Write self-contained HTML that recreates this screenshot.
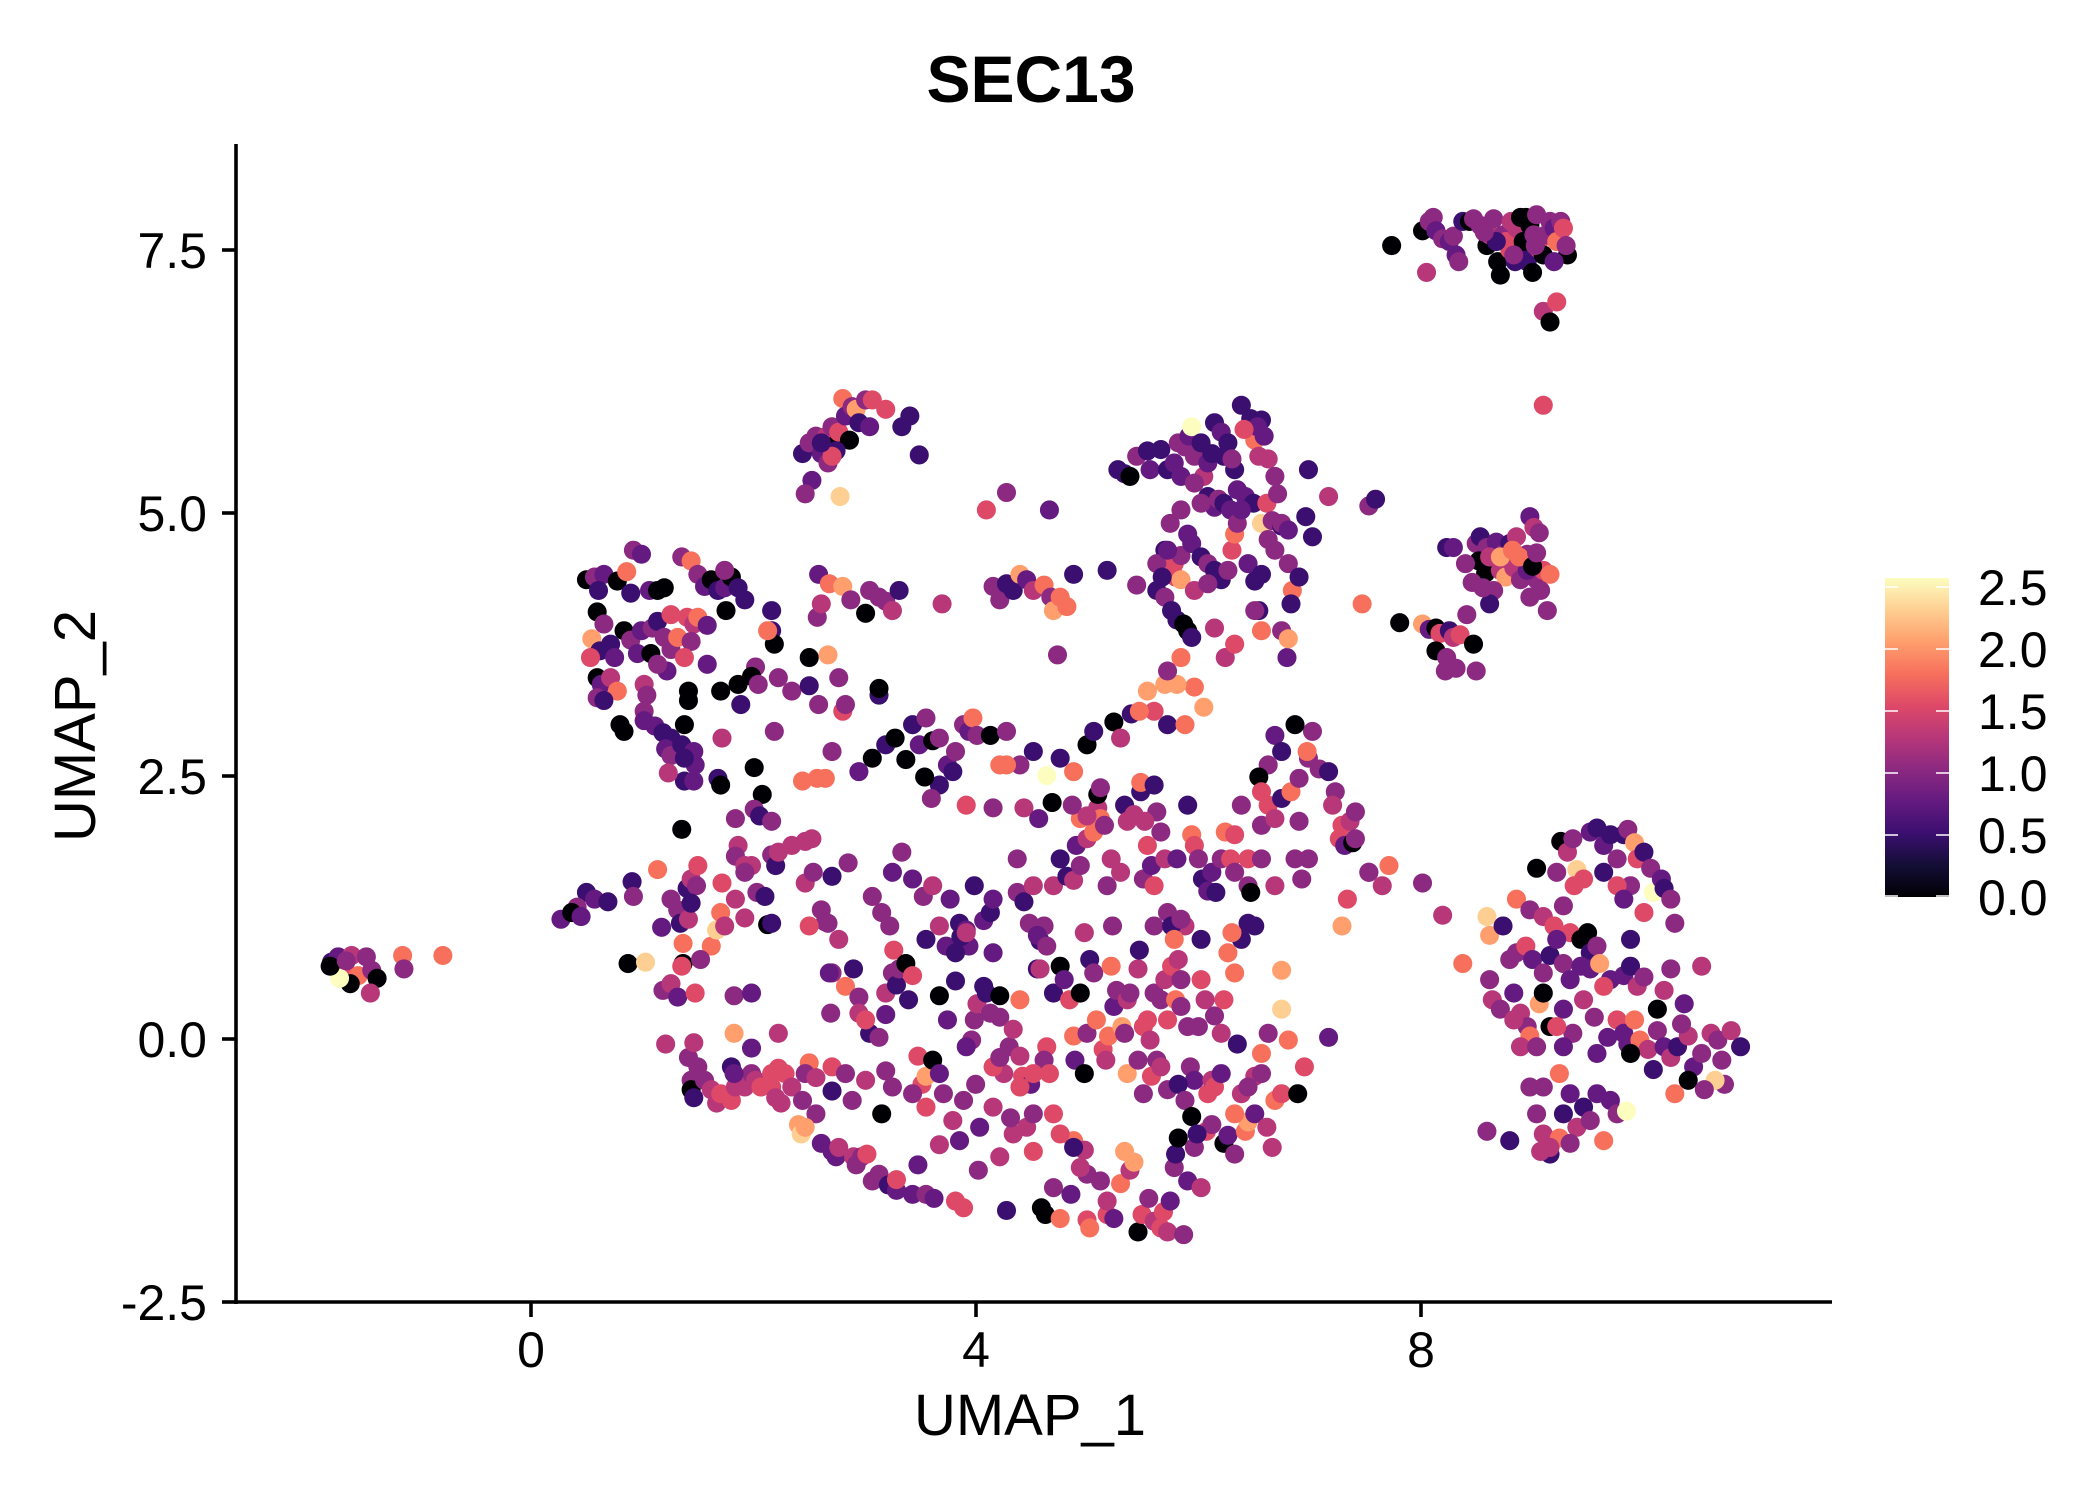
<!DOCTYPE html>
<html><head><meta charset="utf-8"><style>
html,body{margin:0;padding:0;background:#fff}
svg{display:block}
text{font-family:"Liberation Sans",Arial,sans-serif;fill:#000}
</style></head><body>
<svg id="s" xmlns="http://www.w3.org/2000/svg" width="2100" height="1500" viewBox="0 0 2100 1500">
<defs>
<linearGradient id="mg" x1="0" y1="1" x2="0" y2="0">
<stop offset="0" stop-color="#000004"/><stop offset="0.1" stop-color="#140e36"/><stop offset="0.2" stop-color="#3b0f70"/><stop offset="0.3" stop-color="#641a80"/><stop offset="0.4" stop-color="#8c2981"/><stop offset="0.5" stop-color="#b73779"/><stop offset="0.6" stop-color="#de4968"/><stop offset="0.7" stop-color="#f7705c"/><stop offset="0.8" stop-color="#fe9f6d"/><stop offset="0.9" stop-color="#fecf92"/><stop offset="1" stop-color="#fcfdbf"/>
</linearGradient>
</defs>
<rect width="2100" height="1500" fill="#fff"/>
<text x="1031" y="102" font-size="66" font-weight="bold" text-anchor="middle">SEC13</text>
<g id="pts" transform="scale(1.342)"></g>
<line x1="236" y1="144" x2="236" y2="1304" stroke="#000" stroke-width="3.6"/>
<line x1="234" y1="1302" x2="1832" y2="1302" stroke="#000" stroke-width="3.6"/>
<g stroke="#000" stroke-width="3.6">
<line x1="222" y1="250" x2="236" y2="250"/><line x1="222" y1="513" x2="236" y2="513"/><line x1="222" y1="776" x2="236" y2="776"/><line x1="222" y1="1039" x2="236" y2="1039"/><line x1="222" y1="1302" x2="236" y2="1302"/>
<line x1="531" y1="1302" x2="531" y2="1317"/><line x1="976" y1="1302" x2="976" y2="1317"/><line x1="1421" y1="1302" x2="1421" y2="1317"/>
</g>
<g font-size="50" text-anchor="end">
<text x="207" y="268">7.5</text><text x="207" y="531">5.0</text><text x="207" y="794">2.5</text><text x="207" y="1057">0.0</text><text x="207" y="1320">-2.5</text>
</g>
<g font-size="50" text-anchor="middle">
<text x="531" y="1367">0</text><text x="976" y="1367">4</text><text x="1421" y="1367">8</text>
</g>
<text x="1030" y="1435" font-size="58" text-anchor="middle">UMAP_1</text>
<text transform="translate(95,726) rotate(-90)" font-size="58" text-anchor="middle">UMAP_2</text>
<rect x="1885" y="578" width="64" height="319" fill="url(#mg)"/>
<g stroke="#fff" stroke-width="1.5">
<line x1="1885" y1="587" x2="1898" y2="587"/><line x1="1936" y1="587" x2="1949" y2="587"/>
<line x1="1885" y1="649" x2="1898" y2="649"/><line x1="1936" y1="649" x2="1949" y2="649"/>
<line x1="1885" y1="711" x2="1898" y2="711"/><line x1="1936" y1="711" x2="1949" y2="711"/>
<line x1="1885" y1="773" x2="1898" y2="773"/><line x1="1936" y1="773" x2="1949" y2="773"/>
<line x1="1885" y1="835" x2="1898" y2="835"/><line x1="1936" y1="835" x2="1949" y2="835"/>
<line x1="1885" y1="896" x2="1898" y2="896"/><line x1="1936" y1="896" x2="1949" y2="896"/>
</g>
<g font-size="50">
<text x="1978" y="605">2.5</text><text x="1978" y="667">2.0</text><text x="1978" y="729">1.5</text><text x="1978" y="791">1.0</text><text x="1978" y="853">0.5</text><text x="1978" y="915">0.0</text>
</g>
</svg>
<script>
var C=["#000004","#3b0f70","#641a80","#8c2981","#b73779","#de4968","#f7705c","#fe9f6d","#fecf92","#fcfdbf"];
var D="247,717,1;252,713,2;262,712,4;273,713,3;257,721,5;267,727,6;277,723,3;281,729,0;261,733,0;253,729,9;276,740,4;300,712,6;301,722,3;330,712,6;246,720,0;258,716,3;"+
"437,432,0;443,430,3;450,428,2;460,433,0;467,426,6;472,410,3;478,413,2;484,440,2;490,440,0;495,438,0;470,442,1;446,440,1;445,456,0;450,465,3;441,476,7;447,485,1;440,490,5;455,480,1;458,490,2;465,470,0;470,477,3;478,470,2;486,468,3;490,463,1;495,475,3;475,487,2;485,487,0;500,484,3;505,475,6;508,415,3;515,418,6;520,428,3;525,437,2;530,432,0;535,440,1;540,438,2;545,430,0;550,438,1;555,447,1;541,455,0;540,425,3;500,458,5;512,460,5;517,465,4;520,460,6;527,466,2;515,478,3;510,490,5;497,500,2;490,495,3;445,505,0;448,510,2;455,505,4;460,515,6;445,520,3;450,522,1;462,540,0;465,545,0;480,510,4;482,518,3;480,530,3;480,537,2;488,541,2;494,546,1;500,550,1;496,558,2;500,563,3;508,555,1;510,540,0;513,515,0;513,522,0;517,560,2;518,570,2;510,582,1;498,576,4;517,582,2;527,495,2;537,515,0;550,510,0;552,525,1;575,470,1;577,480,0;563,497,3;560,504,0;565,510,3;577,545,3;"+
"508,618,0;510,565,1;538,550,4;535,580,1;537,585,0;562,572,0;568,592,0;548,610,3;562,603,3;566,608,1;550,630,4;548,638,3;575,637,3;578,645,1;560,645,4;575,612,3;590,630,4;600,627,4;605,625,4;598,582,6;609,580,6;600,658,4;606,650,3;612,678,3;615,687,3;603,690,5;"+
"437,665,1;443,670,2;430,676,3;418,685,2;426,680,0;433,683,2;453,672,1;471,657,1;472,668,3;468,718,0;481,717,8;490,648,6;493,691,2;500,670,3;505,678,3;507,688,1;513,685,4;512,662,1;515,655,4;519,660,3;515,673,1;509,703,6;509,718,0;508,720,5;494,738,3;500,733,4;505,743,2;518,740,5;530,705,6;534,693,8;537,680,6;548,670,4;555,684,4;555,645,4;564,665,3;572,689,0;575,688,1;547,742,3;560,740,2;570,668,1;555,650,3;520,645,5;522,715,3;540,690,4;538,658,5;"+
"496,778,4;513,788,3;517,777,4;520,795,3;515,805,3;515,812,0;517,818,1;525,805,3;530,812,4;534,822,4;537,815,5;545,820,5;548,810,4;555,810,4;560,800,3;563,805,4;567,810,5;575,810,5;578,818,4;582,822,4;547,770,7;560,781,2;545,795,1;547,800,2;580,796,5;585,800,5;590,810,4;598,820,3;603,792,6;600,800,3;608,830,3;619,755,3;620,725,3;617,688,3;620,795,5;580,770,4;575,800,5;"+
"595,838,7;597,845,8;600,840,7;612,852,2;620,858,2;623,862,2;625,855,4;636,862,4;638,868,3;642,862,3;646,860,5;650,880,3;655,875,3;662,883,1;668,887,2;668,879,5;680,890,2;690,890,3;696,893,2;684,868,2;700,853,4;712,895,5;718,900,5;729,872,3;745,862,4;750,902,1;755,845,4;770,858,5;776,900,0;779,905,0;790,908,6;785,885,3;798,890,2;800,850,6;808,857,4;810,875,3;810,909,5;820,880,3;812,915,6;825,905,5;825,895,4;830,908,2;835,882,6;838,858,7;842,872,4;845,866,7;848,918,0;851,905,5;856,893,3;860,910,4;865,915,5;867,903,5;870,918,4;872,895,2;875,870,3;876,860,1;878,848,0;882,920,3;885,880,2;890,855,3;895,885,4;899,843,5;903,838,3;912,852,0;915,846,2;920,860,3;928,843,6;930,836,7;935,830,2;944,840,4;948,855,4;950,820,6;955,815,5;"+
"618,725,2;630,735,6;636,722,1;640,743,3;640,755,4;648,770,1;655,773,3;660,756,2;660,740,4;665,725,3;666,708,5;668,734,1;670,722,3;675,718,0;677,745,1;680,727,5;690,700,1;688,668,3;684,787,5;687,808,5;690,802,7;695,790,0;700,800,2;700,742,0;706,760,2;710,707,1;712,731,1;715,688,1;720,693,2;722,705,2;724,775,3;726,760,3;728,748,4;733,735,1;735,740,1;738,755,3;740,710,2;745,742,0;745,758,3;752,780,3;755,767,4;760,745,6;762,802,5;765,840,4;768,808,2;770,830,3;773,722,1;775,701,1;778,690,3;780,780,5;785,740,1;790,720,0;793,730,2;797,745,5;800,772,6;801,790,2;805,740,0;808,800,0;810,770,3;812,715,1;815,725,3;817,760,6;822,782,5;824,790,4;826,772,6;828,720,6;829,690,3;830,750,2;832,738,3;836,765,7;838,770,3;840,745,4;842,740,3;848,722,4;849,708,1;852,765,5;855,760,5;857,775,4;860,690,3;860,740,3;862,790,3;865,745,3;868,730,4;870,760,5;873,720,5;876,745,6;878,715,4;880,750,3;883,690,4;885,765,3;887,795,3;890,805,2;893,765,3;895,700,1;898,745,4;900,815,5;903,805,4;905,757,3;910,770,4;912,745,5;915,710,6;920,725,6;922,778,1;925,700,1;930,688,1;935,802,4;940,785,6;945,770,3;955,723,7;960,775,6;967,815,0;972,795,5;990,773,2;955,752,8;"+
"580,635,4;620,653,1;625,700,4;632,643,3;645,760,5;650,668,3;657,680,3;663,690,3;665,650,2;672,635,3;680,655,2;695,660,4;700,690,4;705,705,2;708,670,2;712,710,1;716,698,1;720,695,4;726,660,1;733,686,2;738,680,1;740,670,2;758,665,3;763,672,1;767,688,3;770,660,4;773,697,2;775,722,4;780,705,3;785,660,4;790,640,1;795,653,1;800,656,4;802,630,2;805,645,3;808,695,4;810,625,4;815,620,6;818,602,4;820,610,6;823,615,3;825,660,3;828,640,4;835,650,4;838,600,1;840,612,4;845,607,4;850,590,1;852,655,3;855,630,5;858,645,2;860,660,5;862,605,3;865,620,3;868,640,4;870,680,3;873,690,1;875,700,6;877,640,2;880,685,3;885,600,1;888,622,6;890,630,5;893,640,3;896,655,1;900,664,2;903,650,2;906,665,1;910,640,3;913,620,6;917,640,5;920,650,3;925,600,3;930,660,3;935,690,1;940,615,3;945,600,5;950,610,4;955,595,1;962,590,6;968,612,3;968,580,3;975,565,3;978,545,3;965,540,0;950,548,2;955,560,1;945,570,3;938,579,0;983,573,3;990,575,1;995,590,3;998,625,5;1000,615,5;1002,630,2;1004,670,5;1006,612,4;1008,628,0;1010,605,3;1020,650,3;1030,660,4;1035,645,6;1060,658,3;1075,682,4;1090,718,6;940,590,5;918,695,6;932,665,0;970,655,3;974,560,6;920,622,5;895,730,5;880,730,3;1000,690,7;950,660,4;975,640,3;965,640,3;930,640,5;940,640,3;"+
"615,580,6;620,560,3;640,575,2;650,565,0;660,555,1;680,540,1;685,555,2;690,535,3;695,552,0;700,585,1;706,570,2;710,575,1;712,560,3;718,540,3;722,545,2;725,535,6;728,548,3;738,548,0;745,570,6;750,545,3;760,570,3;770,560,1;780,578,9;784,598,0;790,565,1;800,575,6;805,610,6;810,555,0;815,545,1;818,592,0;830,538,0;835,550,4;850,583,6;853,612,4;860,585,1;870,540,1;883,540,6;897,527,7;890,512,6;860,530,5;877,510,7;580,505,3;590,515,3;603,511,1;610,525,3;625,505,3;628,530,5;630,525,3;655,518,1;655,513,0;667,550,0;675,566,0;689,579,0;694,595,3;700,550,3;720,600,5;740,602,3;750,570,6;758,640,3;763,602,4;774,610,2;799,600,3;810,608,4;820,587,3;843,532,1;849,530,6;855,515,7;868,510,7;"+
"603,490,0;609,460,3;612,450,4;617,488,7;610,428,2;618,435,6;628,437,7;634,447,3;645,457,0;648,440,3;655,445,3;660,448,3;665,455,4;670,440,1;702,450,4;740,437,3;745,447,3;750,435,1;755,440,1;760,428,7;765,432,2;770,440,4;778,436,6;783,445,3;785,455,7;790,445,6;795,452,6;800,428,1;788,488,3;825,425,1;847,436,3;750,367,3;735,380,5;782,380,2;572,470,6;575,455,1;"+
"598,338,1;603,330,3;608,325,3;612,338,2;616,325,4;620,318,3;622,332,0;625,322,5;628,297,6;630,310,2;633,328,0;635,303,3;638,305,7;640,315,1;645,298,3;648,318,2;650,298,5;660,305,5;672,318,1;678,310,1;685,339,1;605,358,2;600,368,3;617,345,3;623,336,1;626,370,8;620,340,5;612,330,1;"+
"833,350,1;838,353,1;842,355,0;847,340,3;855,336,1;857,350,2;865,335,1;870,350,1;875,345,2;878,330,3;880,355,2;883,333,3;886,325,2;888,318,9;890,340,3;895,330,1;897,355,4;900,345,2;903,338,1;905,315,1;910,322,2;912,340,1;915,330,1;920,350,1;925,302,1;930,318,4;935,328,6;938,340,4;940,313,1;942,325,2;945,342,4;950,355,3;932,312,1;937,318,2;927,320,5;918,342,3;922,365,2;928,370,2;934,375,1;940,390,8;944,375,5;948,388,3;952,368,3;955,392,1;900,370,1;905,378,2;908,372,3;912,375,1;917,380,2;895,375,3;890,360,3;880,380,3;872,390,3;868,410,1;875,420,5;880,414,3;885,398,2;888,405,2;876,430,5;880,432,7;862,440,1;868,445,3;873,455,1;877,462,1;882,465,0;885,470,0;888,475,1;890,440,4;895,415,1;900,420,3;905,425,1;910,432,1;915,425,3;918,410,5;920,398,6;922,390,3;925,380,2;930,420,2;935,433,1;940,428,1;945,402,3;950,410,3;955,390,3;960,420,3;963,440,6;968,430,1;973,385,1;978,400,1;962,450,1;938,455,1;955,470,3;959,490,2;975,350,1;960,395,2;905,468,4;913,490,4;920,480,5;880,490,6;870,500,3;940,470,6;935,455,3;900,435,3;862,420,3;866,430,1;870,410,2;960,476,7;"+
"1015,450,6;1020,377,3;1025,372,1;1043,464,0;1060,465,7;1065,469,2;1070,468,0;1073,472,5;1080,470,1;1070,485,0;1078,490,3;1083,475,4;1088,473,5;1077,500,3;1085,498,3;1100,500,3;1098,480,0;1078,408,1;1083,408,2;1100,405,3;1103,400,1;1108,408,3;1115,404,2;1120,413,3;1125,405,1;1130,400,4;1135,420,5;1138,413,3;1140,385,2;1143,393,4;1147,397,3;1102,418,0;1107,427,0;1110,415,4;1118,425,4;1122,430,7;1128,423,4;1133,432,3;1140,445,3;1145,432,3;1150,425,5;1155,428,6;1148,440,3;1153,455,3;1138,425,2;1113,440,3;1110,450,1;1097,434,3;1105,438,3;1118,415,7;1132,415,6;1142,422,0;1127,410,6;1093,458,3;1145,412,3;1092,420,3;"+
"1037,183,0;1060,172,0;1065,165,3;1068,162,3;1070,172,2;1075,178,3;1080,180,2;1085,190,2;1087,195,3;1083,176,3;1063,203,4;1090,165,1;1095,165,0;1098,163,3;1103,168,3;1108,183,0;1110,175,4;1113,163,3;1116,195,0;1118,205,0;1120,175,3;1122,180,5;1125,186,5;1126,165,4;1130,170,4;1133,162,0;1137,162,0;1140,168,0;1145,160,3;1140,185,1;1135,180,0;1138,195,1;1142,203,0;1146,185,4;1148,178,5;1150,190,0;1152,175,3;1155,165,3;1158,170,2;1160,180,6;1163,165,3;1165,170,5;1168,190,0;1158,195,2;1150,232,4;1155,240,0;1160,225,5;1150,302,5;1144,183,3;1129,195,1;1115,180,1;1128,190,3;1143,175,3;1167,183,3;1106,173,3;"+
"1145,647,0;1160,650,3;1163,627,0;1168,635,4;1172,625,3;1175,648,8;1180,655,5;1185,620,2;1190,617,1;1195,630,2;1200,622,1;1205,640,3;1210,622,1;1213,618,3;1218,628,7;1220,640,5;1225,635,1;1215,660,3;1230,647,3;1232,665,9;1238,655,2;1240,662,1;1195,650,1;1205,660,5;1210,670,2;1225,680,5;1245,670,3;1248,688,3;1130,670,6;1140,678,3;1150,683,4;1158,690,5;1165,675,3;1170,695,5;1178,700,0;1183,695,0;1185,710,1;1190,705,3;1108,683,8;1110,697,7;1120,690,1;1125,715,3;1130,710,3;1137,705,5;1142,715,2;1150,725,3;1155,712,1;1160,700,2;1165,718,3;1170,730,2;1178,720,2;1185,722,2;1192,718,7;1200,730,2;1210,727,2;1215,720,1;1220,735,4;1225,728,3;1235,752,0;1240,738,4;1245,722,3;1255,748,2;1268,720,4;1110,730,3;1112,745,4;1118,752,3;1128,740,2;1133,755,4;1138,765,3;1140,772,6;1147,748,7;1150,740,0;1155,765,0;1165,752,2;1172,770,3;1180,745,4;1188,758,3;1195,735,5;1198,773,2;1205,760,5;1210,770,2;1213,778,2;1218,760,6;1222,775,6;1228,782,4;1235,768,3;1240,780,2;1245,788,4;1250,780,1;1258,772,4;1262,795,2;1268,785,3;1275,770,4;1280,775,3;1283,790,3;1290,768,4;1297,780,1;1285,808,3;1278,805,8;1248,815,6;1258,805,0;1215,785,0;1232,797,1;1133,780,4;1140,810,3;1145,830,3;1150,845,4;1155,860,1;1162,800,6;1165,830,1;1170,815,2;1175,840,4;1180,825,1;1185,835,3;1190,815,2;1195,850,6;1200,820,2;1205,830,3;1212,828,9;1150,810,3;1162,848,6;1170,852,3;1125,850,1;1108,843,3;1155,855,4;1148,858,4;1165,780,2;1190,785,2;1215,700,1;1160,765,5;1128,760,4;1145,780,3;1173,660,5;1253,763,3;1270,812,3;"+
"993,600,4;1010,625,3;785,830,5;790,845,5;800,855,1;805,870,4;760,810,5;730,840,2;727,808,3;740,825,4;748,800,4;753,833,3;703,815,3;710,835,4;715,850,2;720,780,2;718,820,3;690,825,5;680,815,3;660,798,3;665,810,3;657,830,0;645,805,4;635,820,3;630,800,3;620,813,1;608,803,4;778,790,3;782,800,5;740,795,5;745,788,3;760,787,4;770,800,5;840,800,7;848,790,3;852,815,3;858,802,5;865,795,4;870,812,3;878,808,1;883,820,3;888,832,0;892,845,1;905,810,5;910,800,2;920,830,6;925,815,4;930,810,3;940,800,3;1020,650,3;990,370,4";
var g=document.getElementById("pts"),ns="http://www.w3.org/2000/svg",a=D.split(";");
for(var i=0;i<a.length;i++){var p=a[i].split(",");if(p.length<3)continue;var c=document.createElementNS(ns,"circle");c.setAttribute("cx",p[0]);c.setAttribute("cy",p[1]);c.setAttribute("r","7.1");c.setAttribute("fill",C[+p[2]]);g.appendChild(c);}
</script>
</body></html>
